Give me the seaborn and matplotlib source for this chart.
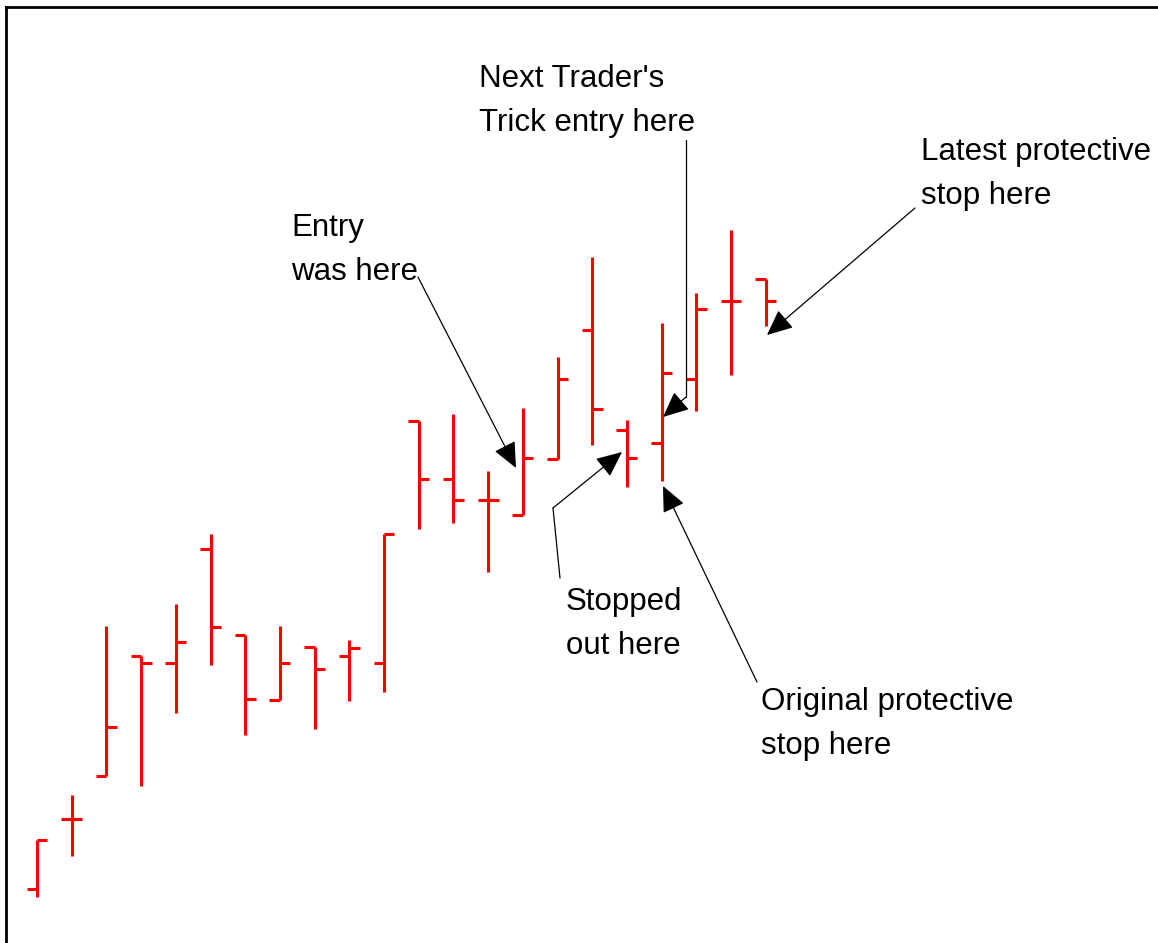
import numpy as np
import matplotlib.pyplot as plt
import seaborn as sns

# OHLC bars (arbitrary price units)
bar_no = list(range(1, 23))
opens = [6.1, 13.1, 17.4, 29.4, 28.7, 40.1, 31.5, 25.0, 30.3, 29.4, 28.7,
         52.9, 47.1, 45.0, 43.5, 49.1, 62.0, 52.0, 50.7, 57.1, 64.9, 67.1]
highs = [11.0, 15.5, 32.4, 29.4, 34.6, 41.6, 31.5, 32.4, 30.3, 31.0, 41.6,
         52.9, 53.6, 47.9, 54.2, 59.3, 69.3, 53.0, 62.7, 65.7, 72.0, 67.1]
lows = [5.3, 9.4, 17.4, 16.4, 23.7, 28.5, 21.5, 25.0, 22.1, 24.9, 25.8,
        42.1, 42.7, 37.8, 43.5, 49.1, 50.5, 46.3, 46.9, 53.9, 57.5, 62.4]
closes = [11.0, 13.1, 22.3, 28.7, 30.8, 32.3, 25.1, 28.7, 28.1, 30.2, 41.6,
          47.1, 45.0, 45.0, 49.2, 57.1, 54.1, 49.2, 57.7, 64.1, 64.9, 64.9]

labels = ["Entry\nwas here",
          "Next Trader's\nTrick entry here",
          "Latest protective\nstop here",
          "Stopped\nout here",
          "Original protective\nstop here"]

sns.set_theme(style='white')
plt.rcParams['font.family'] = ['Liberation Sans', 'DejaVu Sans']

W, H = 1158, 943
fig = plt.figure(figsize=(W / 100, H / 100), dpi=100)
fig.patch.set_facecolor('white')
ax = fig.add_axes([6 / W, 0, (W - 6) / W, (H - 7) / H])

x = np.array(bar_no) - 1
red = '#ff0000'
ax.vlines(x, lows, highs, colors=red, linewidth=2.2)
ax.hlines(opens, x - 0.3, x, colors=red, linewidth=2.2)
ax.hlines(closes, x, x + 0.3, colors=red, linewidth=2.2)


def px(xp, yp):
    # picture pixel -> data coords (layout helper for the notes)
    return ((xp - 37) / 34.7, (950 - yp) / 10)


ax.set_xlim(px(6, 0)[0], px(W, 0)[0])
ax.set_ylim(px(0, H)[1], px(0, 7)[1])

# frame: only top and left edges
for side in ['right', 'bottom']:
    ax.spines[side].set_visible(False)
for side in ['top', 'left']:
    ax.spines[side].set_color('black')
    ax.spines[side].set_linewidth(2)
ax.set_xticks([])
ax.set_yticks([])

arrow = dict(arrowstyle='-|>,head_length=0.8,head_width=0.36', mutation_scale=20,
             color='black', lw=0.9, shrinkA=0, shrinkB=0)


def note(text, pos, path):
    ax.text(*px(*pos), text, ha='left', va='top', fontsize=22.5,
            color='black', linespacing=1.62)
    pts = [px(*p) for p in path]
    if len(pts) > 2:
        ax.plot([p[0] for p in pts[:-1]], [p[1] for p in pts[:-1]],
                color='black', lw=0.9)
    ax.annotate('', xy=pts[-1], xytext=pts[-2], arrowprops=arrow)


note(labels[0], (291, 213), [(418, 277), (516, 468)])
note(labels[1], (479, 64), [(686, 140), (686, 397), (663, 417)])
note(labels[2], (921, 137), [(915, 208), (767, 335)])
note(labels[3], (566, 587), [(560, 578), (553, 508), (622, 452)])
note(labels[4], (761, 687), [(757, 682), (663, 486)])

plt.savefig('out.png', dpi=100)
